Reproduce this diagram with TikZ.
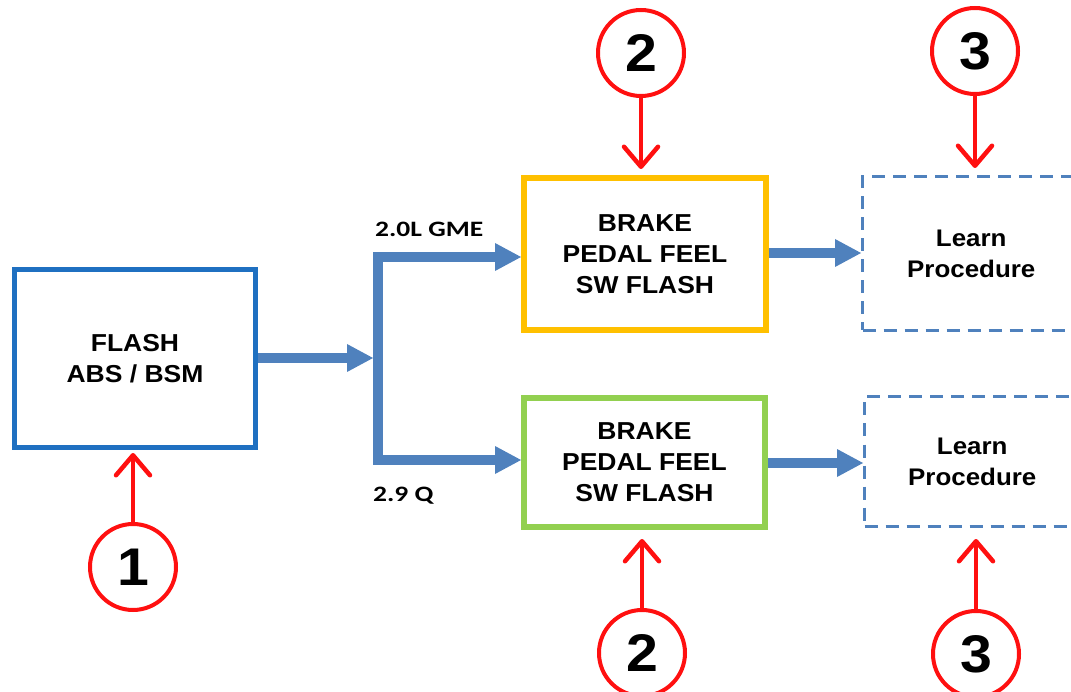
\documentclass[tikz,border=0pt]{standalone}
\usepackage{fontspec}
\usetikzlibrary{arrows.meta,shadows}
\newfontfamily\arialb{Liberation Sans}[FakeStretch=1.08]
\newfontfamily\calib{Carlito}[FakeStretch=1.25]
\definecolor{boxblue}{HTML}{1F70C1}
\definecolor{connblue}{HTML}{4F81BD}
\definecolor{boxorange}{HTML}{FFC000}
\definecolor{boxgreen}{HTML}{92D050}
\definecolor{markred}{HTML}{FF1010}
\begin{document}
\begin{tikzpicture}[x=1pt,y=-1pt,
  box/.style={rectangle, draw, fill=white, line width=#1, align=center,
    font=\arialb\bfseries\fontsize{24.5}{31}\selectfont,
    drop shadow={opacity=0.18, shadow xshift=1.5pt, shadow yshift=-2.5pt}},
  dashbox/.style={rectangle, draw=connblue, fill=white, line width=3pt, dash pattern=on 13pt off 8pt,
    align=center, font=\arialb\bfseries\fontsize{24}{31}\selectfont},
  conn/.style={draw=connblue, line width=10.5pt, -{Triangle[length=26pt,width=28pt,line width=0pt]}},
  bar/.style={draw=connblue, line width=10pt, line cap=rect},
  numring/.style={circle, draw=markred, line width=4pt, fill=white, minimum size=86pt, inner sep=0pt,
    font=\arialb\bfseries\fontsize{53}{53}\selectfont},
  redarr/.style={draw=markred, line width=4.5pt, -{Straight Barb[length=20pt,width=34pt,line width=4.5pt,round]}},
  lbl/.style={font=\calib\bfseries\fontsize{22}{22}\selectfont, inner sep=0pt}]
\fill[white] (0,0) rectangle (1071,692);
\useasboundingbox (0,0) rectangle (1071,692);

% boxes
\node[box=5pt, draw=boxblue, minimum width=241pt, minimum height=178pt] (flash) at (135,358.5) {FLASH\\ABS / BSM};
\node[box=6pt, draw=boxorange, minimum width=242pt, minimum height=152pt] (orange) at (645,254) {BRAKE\\PEDAL FEEL\\SW FLASH};
\node[box=6pt, draw=boxgreen, minimum width=241pt, minimum height=129pt] (green) at (644.5,462.5) {BRAKE\\PEDAL FEEL\\SW FLASH};
\node[dashbox, minimum width=217.5pt, minimum height=154pt] (learnA) at (971.25,253.5) {Learn\\Procedure};
\node[dashbox, minimum width=215.5pt, minimum height=130pt] (learnB) at (972.25,461.5) {Learn\\Procedure};

% connectors
\coordinate (J1) at (378,257);
\coordinate (J2) at (378,460);
\coordinate (Jm) at (373,358);
\draw[bar] (J1) -- (J2);
\draw[conn] (flash.east |- Jm) -- (Jm);
\draw[conn] (J1) -- (J1 -| orange.west);
\draw[conn] (J2) -- (J2 -| green.west);
\draw[conn] (orange.east |- 0,253) -- (learnA.west |- 0,253);
\draw[conn] (green.east |- 0,463) -- (learnB.west |- 0,463);

% labels
\node[lbl, anchor=base west] (lblA) at (375,237) {2.0L GME};
\node[lbl, anchor=base west] (lblB) at (373,501) {2.9 Q};

% markers
\node[numring] (m1) at (133,567) {1};
\node[numring] (m2t) at (641,53) {2};
\node[numring] (m3t) at (975,51) {3};
\node[numring] (m2b) at (642,653) {2};
\node[numring] (m3b) at (976,654) {3};

\draw[redarr] (m1.north) -- ([yshift=-3pt]m1.north |- flash.south);
\draw[redarr] (m2t.south) -- ([yshift=6pt]m2t.south |- orange.north);
\draw[redarr] (m3t.south) -- ([yshift=7pt]m3t.south |- learnA.north);
\draw[redarr] (m2b.north) -- ([yshift=-9pt]m2b.north |- green.south);
\draw[redarr] (m3b.north) -- ([yshift=-11pt]m3b.north |- learnB.south);
\end{tikzpicture}
\end{document}
